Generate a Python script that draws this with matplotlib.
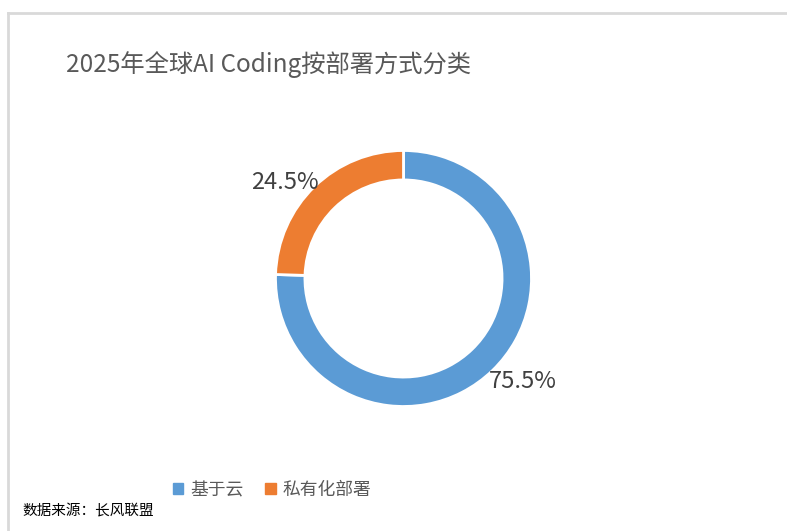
import numpy as np
import matplotlib
matplotlib.use("Agg")
import matplotlib.pyplot as plt
from matplotlib.lines import Line2D

plt.rcParams['font.family'] = ['Noto Sans CJK SC', 'DejaVu Sans']

title = "2025年全球AI Coding按部署方式分类"
categories = ["基于云", "私有化部署"]
values = [75.5, 24.5]
colors = ["#5B9BD5", "#ED7D31"]
source = "数据来源：长风联盟"

W, H = 787, 531
fig = plt.figure(figsize=(W / 100, H / 100), dpi=100)

# chart frame
fig.add_artist(Line2D([8 / W, 8 / W], [0, 1 - 13 / H], color="#D9D9D9", lw=2))
fig.add_artist(Line2D([8 / W, 1], [1 - 13 / H, 1 - 13 / H], color="#D9D9D9", lw=2))

cx, cy, r = 403.5, 278.5, 128
ax = fig.add_axes([(cx - r) / W, (H - cy - r) / H, 2 * r / W, 2 * r / H])
wedges, _ = ax.pie(
    values, colors=colors, startangle=90, counterclock=False, radius=1.0,
    wedgeprops=dict(width=0.23, edgecolor="white", linewidth=2))
total = sum(values)
for w, v in zip(wedges, values):
    mid = np.deg2rad((w.theta1 + w.theta2) / 2 + 6)
    ax.text(1.21 * np.cos(mid), 1.21 * np.sin(mid) - 0.03,
            f"{v / total * 100:.1f}%",
            ha="center", va="center", fontsize=17, color="#404040")
ax.set_xlim(-1, 1)
ax.set_ylim(-1, 1)
ax.set_aspect("equal")
ax.axis("off")

fig.text(268 / W, 1 - 65 / H, title, ha="center", va="center",
         fontsize=17.5, color="#595959")

handles = [plt.Rectangle((0, 0), 1, 1, color=c) for c in colors]
fig.legend(handles, categories, loc="center", ncol=2, frameon=False,
           bbox_to_anchor=(272 / W, 1 - 490 / H), fontsize=12.8,
           labelcolor="#595959", handlelength=0.6, handleheight=0.6,
           handletextpad=0.4, columnspacing=1.2)

fig.text(22 / W, 1 - 511 / H, source, ha="left", va="center",
         fontsize=10.5, color="black")

fig.savefig("out.png", dpi=100)
